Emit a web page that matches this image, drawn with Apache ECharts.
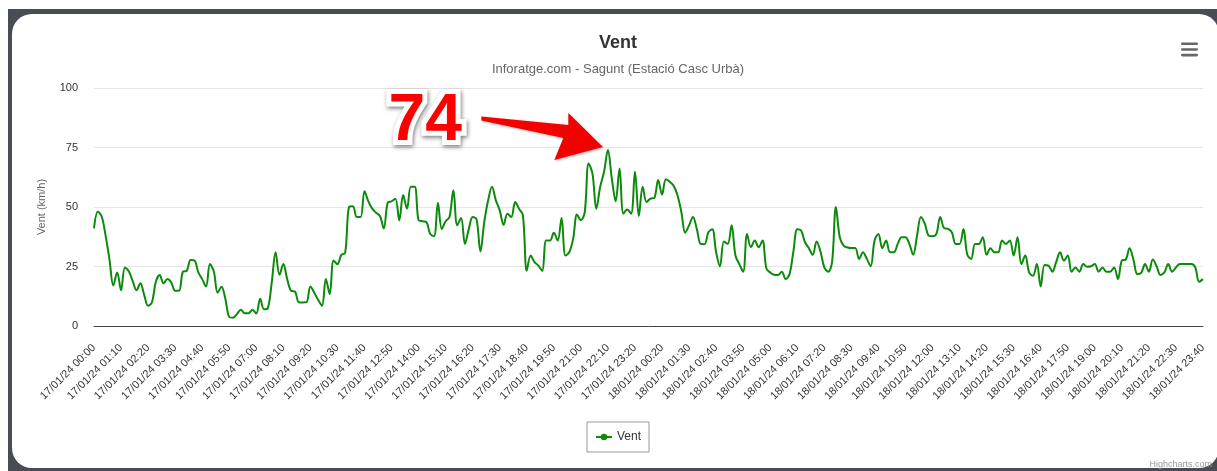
<!DOCTYPE html>
<html>
<head>
<meta charset="utf-8">
<script src="https://cdn.jsdelivr.net/npm/echarts@6/dist/echarts.min.js"></script>
<style>
  html, body { margin: 0; padding: 0; background: #ffffff; width: 1217px; height: 471px; overflow: hidden; }
  #frame { position: absolute; left: 8px; top: 9px; width: 1220px; height: 470px; background: #484c55; }
  #card { position: absolute; left: 12px; top: 14px; width: 1207px; height: 454px; background: #ffffff; border-radius: 20px; }
  #chart { position: absolute; left: 0; top: 0; width: 1217px; height: 471px; }
</style>
</head>
<body>
<div id="frame"></div>
<div id="card"></div>
<div id="chart"></div>
<script>
// ---- data ----
const titleText = 'Vent';
const subtitleText = 'Inforatge.com - Sagunt (Estació Casc Urbà)';
const seriesName = 'Vent';
const yAxisName = 'Vent (km/h)';
const yTicks = [0, 25, 50, 75, 100];

// 10-minute timestamps, 17/01/24 00:00 .. 18/01/24 23:40 (one repeated record at midnight)
const categories = [];
(function () {
  function pad(n) { return n < 10 ? '0' + n : '' + n; }
  for (let i = 0; i < 288; i++) {
    const m = i <= 144 ? 10 * i : 10 * (i - 1);
    const day = m < 1440 ? 17 : 18;
    const mm = m % 1440;
    categories.push(day + '/01/24 ' + pad(Math.floor(mm / 60)) + ':' + pad(mm % 60));
  }
})();

const windDay1Night = [
  41, 48, 46, 38, 28, 17, 22.5, 15, 24.6, 23,
  19, 15, 18, 13, 8.5, 10, 18.6, 21.4, 18, 19.7,
  18.3, 14.8, 14.8, 22.8, 23.2, 27.7, 27.5, 22.5, 19.7, 16.6,
  26, 23, 14, 16.5, 11.3, 3.8, 3.5, 5, 6.8, 5.4,
  5.4, 6.8, 5.2, 11.5, 7, 7.5, 18.3, 31, 21.5, 26,
  19.7, 14.8, 14.5, 10, 9.9, 10, 16.6, 14, 11, 8.5,
  19.7, 13.4, 27.5, 26, 29.9, 30.7, 50, 50.3, 45.8, 45.8
];
const windDay1Day = [
  56.6, 52.4, 49.3, 47.6, 46.2, 41, 51.8, 52.4, 53.5, 44.4,
  55, 49.3, 58.5, 58.5, 44.4, 44, 43.7, 38.7, 37.7, 51.8,
  40.8, 44, 45.8, 57, 42.3, 45.4, 34.5, 40.8, 45.8, 44.8,
  31.3, 43.7, 52.8, 58.5, 52.8, 48.6, 42.5, 47.2, 45.8, 52.1,
  49.3, 46.5, 23.2, 29.6, 26.8, 25.4, 23.2, 35.9, 35.9, 39.2,
  35.9, 45.4, 29.6, 31, 36.6, 46.8, 44.4, 47.9, 68.3, 64,
  49.3, 58.5, 64.8, 74, 62, 52.4, 66.2
];
const windDay2Morning = [
  47.2, 48.9, 47.2, 64.8, 46.2, 58.5, 52.1, 53.5, 53.8, 61.3,
  55.2, 61.7, 60.6, 58.9, 54.9, 47.9, 39.2, 42.3, 45.8, 40.8,
  34.5, 34.4, 39.4, 40.6, 31, 25.1, 35.5, 34.5, 42.3, 29.6,
  26, 22.8, 38.7, 33.1, 35.9, 33.1, 35.9, 24.2, 22.5, 21.5,
  21.4, 22.8, 19.7, 21.8, 31.3, 40.6, 40.1, 35.2, 32.7, 29.9,
  35.5, 31.3, 24.6, 22.8, 26.8, 50, 37.3, 33.8, 33, 32.8,
  32.8, 28.2, 31, 28.2, 25.1, 35.9, 38.7, 32.7, 35.9, 31,
  31, 34.5, 37.3
];
const windDay2Evening = [
  37.3, 34.5, 29.9, 38, 45.8, 43, 38, 37.7, 38.7, 45.8,
  41.1, 40.8, 39.4, 34.5, 34.5, 40.8, 29.9, 28.2, 34.5, 34.5,
  37.3, 29.9, 32.7, 31, 31, 35.9, 34.5, 35.9, 29.6, 37.3,
  26, 29.6, 22.5, 21.1, 26, 16.6, 25.6, 25.4, 22.8, 26.8,
  31, 27.5, 29.6, 22.8, 24.6, 22.8, 26, 24.9, 25.1, 26,
  22.8, 24.6, 22.8, 22.8, 24.6, 19.7, 27.5, 27.9, 32.7, 27.9,
  21.8, 22.3, 26, 22.8, 27.9, 25.1, 21.4, 22.5, 26, 22.8,
  24.6, 26, 26, 26, 26, 24.6, 18.6, 19.7
];
const windValues = [].concat(windDay1Night, windDay1Day, windDay2Morning, windDay2Evening);

// ---- chart ----
const FONT = '"Liberation Sans", Arial, sans-serif';
const GREEN = '#0b8a0b';
const chart = echarts.init(document.getElementById('chart'), null, { renderer: 'canvas' });

chart.setOption({
  animation: false,
  backgroundColor: 'transparent',
  textStyle: { fontFamily: FONT },
  title: [
    { text: titleText, left: 618, top: 34, textAlign: 'center', padding: 0,
      textStyle: { fontSize: 18, fontWeight: 'bold', color: '#333333', fontFamily: FONT } },
    { text: subtitleText, left: 618, top: 63, textAlign: 'center', padding: 0,
      textStyle: { fontSize: 13, fontWeight: 'normal', color: '#666666', fontFamily: FONT } }
  ],
  legend: {
    data: [seriesName],
    left: 587, top: 422,
    padding: [9, 8],
    borderColor: '#999999', borderWidth: 1, borderRadius: 0,
    itemWidth: 16, itemHeight: 8, itemGap: 5,
    textStyle: { fontSize: 12, color: '#333333', fontFamily: FONT }
  },
  grid: { left: 94, right: 14, top: 88, bottom: 145, containLabel: false },
  xAxis: {
    type: 'category',
    data: categories,
    boundaryGap: false,
    axisLine: { show: true, lineStyle: { color: '#444444', width: 1 } },
    axisTick: { show: false },
    splitLine: { show: false },
    axisLabel: {
      interval: 6, rotate: 45, margin: 20,
      fontSize: 11, color: '#333333', fontFamily: FONT
    }
  },
  yAxis: {
    type: 'value',
    min: yTicks[0], max: yTicks[yTicks.length - 1], interval: 25,
    name: yAxisName, nameLocation: 'middle', nameGap: 47,
    nameTextStyle: { fontSize: 11, color: '#666666', fontFamily: FONT },
    axisLine: { show: false },
    axisTick: { show: false },
    splitLine: { lineStyle: { color: '#e6e6e6', width: 1 } },
    axisLabel: { margin: 16, fontSize: 11, color: '#333333', fontFamily: FONT }
  },
  series: [{
    name: seriesName,
    type: 'line',
    data: windValues,
    smooth: 0.35,
    showSymbol: false,
    symbol: 'circle',
    symbolSize: 8,
    itemStyle: { color: GREEN },
    lineStyle: { color: GREEN, width: 2 }
  }]
});

// Annotation tied to the maximum value
let maxIdx = 0;
for (let i = 1; i < windValues.length; i++) if (windValues[i] > windValues[maxIdx]) maxIdx = i;
const p = chart.convertToPixel({ gridIndex: 0 }, [maxIdx, windValues[maxIdx]]);
const px = p[0], py = p[1];
const arrowRel = [[-126.6, -33.5], [-39.6, -25], [-39.6, -37], [-5, -3], [-53.6, 10], [-44.6, -12], [-126.6, -29.5]];
const peakText = String(Math.round(windValues[maxIdx]));
const lx = px - 182.6, ly = py - 28;

chart.setOption({
  graphic: [
    { type: 'polygon', id: 'arrow', z: 100, silent: true,
      shape: { points: arrowRel.map(function (d) { return [px + d[0], py + d[1]]; }) },
      style: { fill: '#f40000', shadowBlur: 3, shadowColor: 'rgba(0,0,0,0.3)', shadowOffsetX: 1, shadowOffsetY: 1 } },
    { type: 'text', id: 'peakLabelBack', z: 100, silent: true,
      x: lx, y: ly,
      style: {
        text: peakText,
        font: 'bold 66px ' + FONT,
        fill: 'rgba(255,255,255,0)', stroke: '#ffffff', lineWidth: 10,
        align: 'center', verticalAlign: 'middle',
        textShadowBlur: 4, textShadowColor: 'rgba(0,0,0,0.5)', textShadowOffsetX: 1, textShadowOffsetY: 2
      } },
    { type: 'text', id: 'peakLabel', z: 101, silent: true,
      x: lx, y: ly,
      style: {
        text: peakText,
        font: 'bold 66px ' + FONT,
        fill: '#ff0000',
        align: 'center', verticalAlign: 'middle'
      } },
    // export menu icon
    { type: 'rect', id: 'm1', shape: { x: 1181, y: 42.5, width: 17, height: 2.6, r: 1.3 }, style: { fill: '#666666' } },
    { type: 'rect', id: 'm2', shape: { x: 1181, y: 48.2, width: 17, height: 2.6, r: 1.3 }, style: { fill: '#666666' } },
    { type: 'rect', id: 'm3', shape: { x: 1181, y: 53.8, width: 17, height: 2.6, r: 1.3 }, style: { fill: '#666666' } },
    // credits
    { type: 'text', id: 'credits', x: 1212, y: 465,
      style: { text: 'Highcharts.com', font: '9px ' + FONT, fill: '#999999', align: 'right', verticalAlign: 'middle' } }
  ]
});
</script>
</body>
</html>
